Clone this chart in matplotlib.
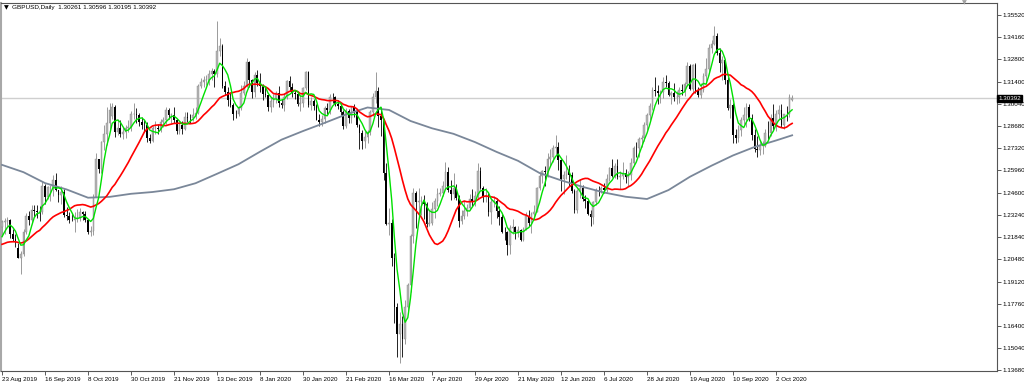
import numpy as np
import pandas as pd
import matplotlib
matplotlib.use("Agg")
import matplotlib.pyplot as plt
import matplotlib.transforms as mtransforms

plt.rcParams['font.family'] = ['Liberation Sans', 'DejaVu Sans']

# GBPUSD daily, 23 Aug 2019 .. 12 Oct 2020, prices in pips (x 1e-4)
opens = [
    12245, 12278, 12283, 12290, 12207, 12172, 12120, 12060, 12081, 12220,
    12316, 12289, 12355, 12349, 12341, 12339, 12502, 12431, 12495, 12496,
    12536, 12474, 12443, 12465, 12321, 12316, 12293, 12290, 12297, 12303,
    12340, 12329, 12293, 12220, 12226, 12435, 12665, 12607, 12768, 12818,
    12888, 12930, 12985, 12835, 12854, 12822, 12830, 12856, 12860, 12940,
    12946, 12937, 12896, 12876, 12875, 12796, 12777, 12856, 12856, 12852,
    12895, 12903, 12966, 12936, 12938, 12908, 12837, 12877, 12851, 12926,
    12920, 12918, 12934, 12950, 13118, 13140, 13150, 13152, 13186, 13208,
    13190, 13330, 13363, 13115, 13079, 13032, 13000, 12946, 12945, 12977,
    13072, 13113, 13261, 13150, 13080, 13183, 13136, 13113, 13063, 13058,
    12988, 13020, 13041, 13072, 13010, 13001, 13045, 13148, 13112, 13073,
    13068, 13003, 13010, 13102, 13200, 12998, 13024, 12992, 12909, 12892,
    12914, 12977, 12967, 13049, 13048, 13004, 12995, 12953, 12871, 12962,
    12918, 12987, 12962, 12873, 12823, 12775, 12802, 12833, 12958, 13047,
    13086, 12932, 12903, 12578, 12266, 12270, 12058, 11753, 11591, 11650,
    11560, 11756, 11893, 12195, 12458, 12402, 12407, 12410, 12390, 12264,
    12270, 12358, 12405, 12450, 12460, 12497, 12588, 12478, 12450, 12490,
    12428, 12285, 12317, 12344, 12364, 12420, 12410, 12438, 12591, 12490,
    12433, 12438, 12342, 12400, 12406, 12349, 12307, 12220, 12215, 12135,
    12239, 12245, 12218, 12228, 12169, 12236, 12315, 12272, 12325, 12342,
    12485, 12562, 12592, 12588, 12667, 12680, 12735, 12740, 12663, 12546,
    12567, 12595, 12570, 12470, 12350, 12470, 12485, 12419, 12410, 12330,
    12308, 12402, 12474, 12473, 12485, 12475, 12544, 12609, 12564, 12620,
    12553, 12563, 12578, 12557, 12567, 12640, 12736, 12734, 12787, 12794,
    12873, 12935, 12995, 13090, 13085, 13072, 13080, 13139, 13136, 13061,
    13074, 13045, 13049, 13093, 13087, 13125, 13238, 13098, 13242, 13087,
    13060, 13090, 13177, 13217, 13351, 13372, 13422, 13318, 13254, 13276,
    13152, 12982, 12998, 12812, 12795, 12846, 12909, 12935, 12988, 12919,
    12812, 12729, 12723, 12744, 12748, 12826, 12823, 12918, 12872, 12944,
    12966, 12876, 12943, 12940, 13026,
]
highs = [
    12291, 12302, 12309, 12295, 12233, 12207, 12150, 12100, 12235, 12336,
    12348, 12384, 12385, 12383, 12380, 12528, 12510, 12502, 12507, 12567,
    12582, 12478, 12498, 12480, 12368, 12343, 12332, 12340, 12360, 12363,
    12346, 12345, 12300, 12255, 12448, 12705, 12665, 12775, 12875, 12988,
    13012, 13013, 12998, 12915, 12908, 12862, 12875, 12903, 12960, 13012,
    12982, 12950, 12922, 12905, 12892, 12821, 12868, 12901, 12883, 12914,
    12924, 12985, 12982, 12948, 12983, 12915, 12892, 12900, 12955, 12955,
    12945, 12980, 12985, 13130, 13165, 13175, 13180, 13215, 13227, 13220,
    13514, 13412, 13375, 13145, 13110, 13075, 13010, 12970, 12995, 13120,
    13145, 13285, 13267, 13160, 13200, 13215, 13195, 13125, 13115, 13062,
    13045, 13064, 13085, 13118, 13035, 13070, 13155, 13175, 13135, 13090,
    13075, 13060, 13110, 13207, 13210, 13050, 13035, 13005, 12940, 12935,
    12990, 13010, 13069, 13070, 13055, 13030, 13000, 12965, 12978, 12975,
    12993, 13005, 12976, 12880, 12845, 12840, 12845, 12970, 13075, 13200,
    13110, 12985, 12915, 12640, 12365, 12300, 12090, 11780, 11726, 11700,
    11800, 11905, 12205, 12485, 12467, 12485, 12440, 12445, 12400, 12355,
    12400, 12425, 12485, 12485, 12530, 12647, 12615, 12535, 12580, 12510,
    12445, 12350, 12405, 12390, 12450, 12484, 12470, 12643, 12615, 12500,
    12490, 12465, 12425, 12440, 12425, 12375, 12330, 12250, 12225, 12258,
    12295, 12255, 12253, 12235, 12250, 12340, 12350, 12340, 12385, 12495,
    12585, 12600, 12620, 12700, 12730, 12750, 12812, 12770, 12665, 12590,
    12690, 12630, 12585, 12480, 12480, 12542, 12505, 12445, 12420, 12355,
    12410, 12485, 12500, 12500, 12520, 12575, 12615, 12665, 12640, 12665,
    12590, 12650, 12605, 12590, 12670, 12745, 12770, 12800, 12815, 12895,
    12950, 13010, 13110, 13170, 13120, 13090, 13170, 13185, 13145, 13085,
    13135, 13082, 13110, 13130, 13140, 13265, 13250, 13250, 13255, 13110,
    13135, 13195, 13285, 13375, 13400, 13482, 13440, 13350, 13300, 13280,
    13170, 13035, 13010, 12850, 12875, 12925, 12985, 13008, 13005, 12945,
    12850, 12805, 12785, 12775, 12850, 12900, 12945, 13005, 12965, 13000,
    13005, 12945, 12990, 13065, 13060,
]
lows = [
    12195, 12203, 12250, 12178, 12163, 12124, 12057, 11959, 12070, 12205,
    12263, 12272, 12310, 12305, 12282, 12330, 12390, 12421, 12410, 12441,
    12470, 12403, 12392, 12308, 12290, 12270, 12285, 12220, 12280, 12282,
    12292, 12280, 12206, 12192, 12200, 12430, 12580, 12580, 12720, 12750,
    12840, 12915, 12804, 12815, 12800, 12790, 12795, 12835, 12840, 12910,
    12890, 12870, 12850, 12835, 12770, 12764, 12770, 12820, 12820, 12830,
    12860, 12880, 12912, 12890, 12890, 12822, 12820, 12820, 12845, 12895,
    12890, 12900, 12910, 12945, 13100, 13110, 13120, 13120, 13150, 13110,
    13170, 13300, 13100, 13060, 12990, 12985, 12905, 12920, 12930, 12970,
    13060, 13110, 13110, 13040, 13050, 13115, 13080, 13030, 13045, 12960,
    12955, 12985, 13010, 12985, 12980, 12962, 13035, 13085, 13050, 13035,
    12990, 12960, 12985, 13090, 12985, 12970, 12970, 12905, 12870, 12870,
    12890, 12945, 12940, 13010, 12995, 12975, 12935, 12850, 12855, 12890,
    12890, 12925, 12860, 12725, 12725, 12735, 12765, 12815, 12930, 13010,
    12860, 12805, 12535, 12262, 12200, 12010, 11660, 11450, 11409, 11450,
    11530, 11720, 11850, 12150, 12240, 12305, 12320, 12300, 12250, 12255,
    12260, 12305, 12380, 12440, 12440, 12480, 12465, 12415, 12420, 12415,
    12247, 12265, 12300, 12315, 12350, 12375, 12380, 12425, 12480, 12400,
    12400, 12315, 12265, 12370, 12305, 12260, 12210, 12165, 12076, 12080,
    12205, 12175, 12186, 12160, 12160, 12230, 12255, 12210, 12300, 12340,
    12475, 12520, 12500, 12555, 12620, 12650, 12690, 12600, 12470, 12450,
    12545, 12500, 12455, 12333, 12335, 12425, 12410, 12365, 12320, 12252,
    12265, 12385, 12440, 12455, 12455, 12465, 12530, 12555, 12550, 12545,
    12480, 12540, 12520, 12500, 12535, 12620, 12680, 12680, 12740, 12775,
    12845, 12905, 12970, 13055, 13005, 13010, 13040, 13110, 13055, 13005,
    13020, 13005, 13010, 13060, 13055, 13115, 13090, 13075, 13070, 13045,
    13040, 13080, 13140, 13195, 13320, 13365, 13305, 13200, 13155, 13130,
    12970, 12920, 12763, 12765, 12770, 12805, 12880, 12865, 12900, 12785,
    12710, 12676, 12690, 12695, 12740, 12785, 12805, 12845, 12840, 12915,
    12865, 12850, 12900, 12925, 13020,
]
closes = [
    12278, 12283, 12290, 12207, 12172, 12159, 12060, 12081, 12220, 12316,
    12289, 12355, 12349, 12341, 12339, 12502, 12431, 12495, 12496, 12536,
    12474, 12443, 12465, 12321, 12316, 12293, 12290, 12297, 12303, 12340,
    12329, 12293, 12220, 12226, 12435, 12665, 12607, 12768, 12818, 12888,
    12970, 12985, 12835, 12854, 12822, 12830, 12856, 12860, 12940, 12946,
    12937, 12896, 12876, 12875, 12796, 12777, 12856, 12856, 12852, 12895,
    12903, 12966, 12936, 12938, 12908, 12837, 12877, 12851, 12926, 12920,
    12918, 12934, 12950, 13118, 13140, 13150, 13152, 13186, 13208, 13190,
    13330, 13363, 13115, 13079, 13032, 13000, 12946, 12945, 12977, 13072,
    13113, 13261, 13150, 13080, 13183, 13136, 13113, 13063, 13058, 12988,
    13020, 13041, 13072, 13010, 13001, 13045, 13148, 13112, 13073, 13068,
    13003, 13010, 13102, 13200, 12998, 13024, 12992, 12909, 12892, 12914,
    12977, 12967, 13049, 13048, 13004, 12995, 12953, 12871, 12962, 12918,
    12987, 12962, 12873, 12823, 12775, 12802, 12833, 12958, 13047, 13086,
    12932, 12903, 12578, 12266, 12270, 12058, 11753, 11591, 11650, 11560,
    11756, 11893, 12195, 12458, 12402, 12407, 12410, 12390, 12264, 12270,
    12358, 12405, 12450, 12460, 12497, 12588, 12478, 12450, 12490, 12428,
    12285, 12317, 12344, 12364, 12420, 12410, 12438, 12591, 12490, 12433,
    12438, 12342, 12400, 12406, 12349, 12307, 12220, 12215, 12135, 12239,
    12245, 12218, 12228, 12169, 12236, 12315, 12272, 12325, 12342, 12485,
    12562, 12592, 12588, 12667, 12680, 12735, 12740, 12663, 12546, 12567,
    12595, 12570, 12470, 12350, 12470, 12485, 12419, 12410, 12330, 12308,
    12402, 12474, 12473, 12485, 12475, 12544, 12609, 12564, 12620, 12553,
    12563, 12578, 12557, 12567, 12640, 12736, 12734, 12787, 12794, 12873,
    12935, 12995, 13090, 13085, 13072, 13080, 13139, 13136, 13061, 13074,
    13045, 13049, 13093, 13087, 13125, 13238, 13098, 13242, 13087, 13060,
    13090, 13177, 13217, 13351, 13372, 13422, 13318, 13254, 13276, 13152,
    12982, 12998, 12812, 12795, 12846, 12909, 12935, 12988, 12919, 12812,
    12729, 12723, 12744, 12748, 12826, 12823, 12918, 12872, 12944, 12966,
    12876, 12943, 12940, 13046, 13039,
]
# closes before the first visible bar, only needed to start the 20-day average
warmup_closes = [12165, 12155, 12158, 12156, 12166, 12141, 12151, 12141, 12146, 12035,
                 12058, 12062, 12057, 12152, 12141, 12129, 12155, 12135, 12242]

# slow (gray) average every 8 bars, last value on the last bar
gray_ma = [1.2630, 1.2585, 1.2518, 1.2479, 1.2428, 1.2433, 1.2452, 1.2463, 1.2480, 1.2517,
           1.2575, 1.2634, 1.2711, 1.2785, 1.2838, 1.2888, 1.2940, 1.2983, 1.2968, 1.2900,
           1.2855, 1.2821, 1.2770, 1.2710, 1.2655, 1.2580, 1.2535, 1.2495, 1.2460, 1.2434,
           1.2420, 1.2475, 1.2557, 1.2625, 1.2688, 1.2740, 1.2780, 1.2812]
gray_step = 8

date_labels = ["23 Aug 2019", "16 Sep 2019", "8 Oct 2019", "30 Oct 2019", "21 Nov 2019",
               "13 Dec 2019", "8 Jan 2020", "30 Jan 2020", "21 Feb 2020", "16 Mar 2020",
               "7 Apr 2020", "29 Apr 2020", "21 May 2020", "12 Jun 2020", "6 Jul 2020",
               "28 Jul 2020", "19 Aug 2020", "10 Sep 2020", "2 Oct 2020"]
label_step = 16
price_ticks = [1.35520, 1.34160, 1.32800, 1.31400, 1.30040, 1.28680, 1.27320, 1.25960,
               1.24600, 1.23240, 1.21840, 1.20480, 1.19120, 1.17760, 1.16400, 1.15040,
               1.13680]
header = "GBPUSD,Daily  1.30261 1.30596 1.30195 1.30392"
last_price = 1.30392

o = np.array(opens) / 1e4
h = np.array(highs) / 1e4
l = np.array(lows) / 1e4
c = np.array(closes) / 1e4
n = len(c)
x = np.arange(n)

allc = pd.Series(np.concatenate([np.array(warmup_closes) / 1e4, c]))
ma_fast = allc.rolling(5).mean().values[-n:]
ma_mid = allc.rolling(20).mean().values[-n:]
gx = list(range(0, n, gray_step))
if gx[-1] != n - 1:
    gx.append(n - 1)

fs = 4.5

fig = plt.figure(figsize=(10.24, 3.85), dpi=100)
fig.patch.set_facecolor('white')
ax = fig.add_axes([1 / 1024, 14 / 385, 996 / 1024, 368 / 385])
ax.set_facecolor('white')

ax.axhline(last_price, color='#cfcfcf', lw=1.0, zorder=1)

up = c >= o
dn = ~up
ax.vlines(x[up], l[up], h[up], color='#8a8a8a', lw=0.6, zorder=2)
ax.vlines(x[dn], l[dn], h[dn], color='black', lw=0.6, zorder=2)
ax.bar(x[up], (c - o)[up], bottom=o[up], width=0.62, color='#b4b4b4',
       edgecolor='#8a8a8a', linewidth=0.3, zorder=3)
ax.bar(x[dn], (o - c)[dn], bottom=c[dn], width=0.62, color='black',
       linewidth=0, zorder=3)

ax.plot(gx, gray_ma, color='#7a8799', lw=1.3, zorder=4)
ax.plot(x, ma_mid, color='#ff0000', lw=1.2, zorder=5)
ax.plot(x, ma_fast, color='#00e000', lw=1.0, zorder=6)

ax.set_xlim(-1 / 2.6875, 995 / 2.6875)
ax.set_ylim(1.1368 - 1 / 1625.4, 1.3552 + 12 / 1625.4)

ax.set_xticks([i * label_step for i in range(len(date_labels))])
ax.set_xticklabels(date_labels, ha='left', fontsize=fs, color='black')
ax.yaxis.tick_right()
ax.set_yticks(price_ticks)
ax.set_yticklabels(["%.5f" % v for v in price_ticks], fontsize=fs, color='black')
ax.tick_params(axis='x', direction='out', length=3, width=0.6, pad=1.5, color='#404040')
ax.tick_params(axis='y', direction='out', length=3, width=0.6, pad=1.0, color='#404040')

for side in ['right', 'bottom', 'top']:
    ax.spines[side].set_color('#555555')
    ax.spines[side].set_linewidth(0.8)
ax.spines['left'].set_color('#a8a8a8')
ax.spines['left'].set_linewidth(1.5)

trans = mtransforms.blended_transform_factory(ax.transAxes, ax.transData)
ax.text(1.0012, last_price, "%.5f" % last_price, transform=trans, fontsize=fs,
        color='white', ha='left', va='center',
        bbox=dict(boxstyle='square,pad=0.12', fc='black', ec='black'))

fig.text(4 / 1024, 1 - 8 / 385, "\u25bc", fontsize=4.5, color='black', va='center',
         family='DejaVu Sans')
fig.text(12 / 1024, 1 - 8 / 385, header, fontsize=4.6, color='black', va='center')
fig.text(962 / 1024, 1 - 3 / 385, "\u25bc", fontsize=4.5, color='#a0a0a0', va='center',
         family='DejaVu Sans')

fig.savefig("out.png", dpi=100, facecolor='white')
